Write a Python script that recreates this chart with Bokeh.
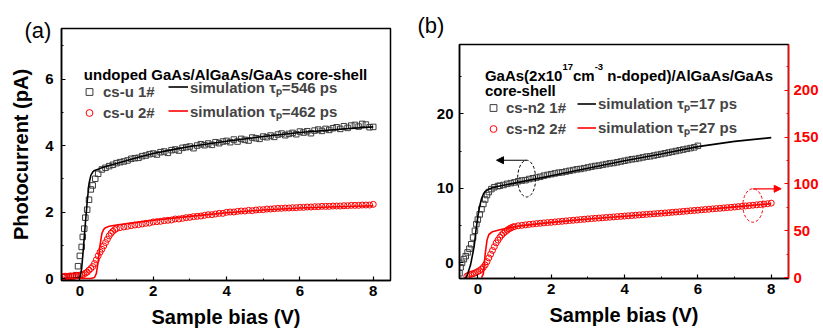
from bokeh.plotting import figure
from bokeh.layouts import row, column
from bokeh.models import (Range1d, LinearAxis, SingleIntervalTicker, Legend,
                          LegendItem, Label, Arrow, NormalHead, Spacer, Title)
from bokeh.embed import file_html
from bokeh.resources import INLINE

FONT = "Liberation Sans"

# ---------------- Panel (a): undoped core-shell ----------------
a1_x = [-0.4, -0.3, -0.2, -0.1, -0.05, 0.0, 0.05, 0.08, 0.12, 0.15, 0.2, 0.25, 0.3, 0.35, 0.42, 0.5,
        0.6, 0.7, 0.8, 0.9, 1.0, 1.1, 1.2, 1.3, 1.4, 1.5, 1.6, 1.7, 1.8, 1.9, 2.0,
        2.1, 2.2, 2.3, 2.4, 2.5, 2.6, 2.7, 2.8, 2.9, 3.0, 3.1, 3.2, 3.3, 3.4, 3.5,
        3.6, 3.7, 3.8, 3.9, 4.0, 4.1, 4.2, 4.3, 4.4, 4.5, 4.6, 4.7, 4.8, 4.9, 5.0,
        5.1, 5.2, 5.3, 5.4, 5.5, 5.6, 5.7, 5.8, 5.9, 6.0, 6.1, 6.2, 6.3, 6.4, 6.5,
        6.6, 6.7, 6.8, 6.9, 7.0, 7.1, 7.2, 7.3, 7.4, 7.5, 7.6, 7.7, 7.8, 7.9, 8.0]
a1_y = [0.04, 0.05, 0.06, 0.10, 0.37, 0.68, 0.95, 1.25, 1.50, 1.83, 2.07, 2.37, 2.68, 2.80, 3.00, 3.15,
        3.28, 3.33, 3.38, 3.42, 3.47, 3.50, 3.52, 3.55, 3.60, 3.62, 3.63, 3.68, 3.70, 3.74, 3.76,
        3.73, 3.80, 3.82, 3.78, 3.86, 3.88, 3.85, 3.93, 3.95, 3.97, 3.92, 4.00, 4.04, 4.01, 4.06,
        4.02, 4.10, 4.07, 4.12, 4.14, 4.10, 4.18, 4.12, 4.20, 4.17, 4.15, 4.24, 4.22, 4.20, 4.27,
        4.25, 4.30, 4.26, 4.33, 4.36, 4.31, 4.35, 4.38, 4.34, 4.42, 4.39, 4.43, 4.37, 4.45, 4.48,
        4.44, 4.50, 4.47, 4.52, 4.55, 4.50, 4.58, 4.53, 4.60, 4.62, 4.57, 4.65, 4.63, 4.55, 4.56]

a2_x = [-0.45, -0.4, -0.35, -0.3, -0.25, -0.2, -0.15, -0.1, -0.05, 0.0, 0.05, 0.1, 0.15, 0.2, 0.25,
        0.3, 0.35, 0.4, 0.45, 0.5, 0.55, 0.6, 0.65, 0.7, 0.75, 0.8, 0.85, 0.9, 0.95, 1.0,
        1.1, 1.2, 1.3, 1.4, 1.5, 1.6, 1.7, 1.8, 1.9, 2.0, 2.1, 2.2, 2.3, 2.4, 2.5,
        2.6, 2.7, 2.8, 2.9, 3.0, 3.1, 3.2, 3.3, 3.4, 3.5, 3.6, 3.7, 3.8, 3.9, 4.0,
        4.1, 4.2, 4.3, 4.4, 4.5, 4.6, 4.7, 4.8, 4.9, 5.0, 5.1, 5.2, 5.3, 5.4, 5.5,
        5.6, 5.7, 5.8, 5.9, 6.0, 6.1, 6.2, 6.3, 6.4, 6.5, 6.6, 6.7, 6.8, 6.9, 7.0,
        7.1, 7.2, 7.3, 7.4, 7.5, 7.6, 7.7, 7.8, 7.9, 8.0]
a2_y = [0.06, 0.07, 0.06, 0.07, 0.08, 0.07, 0.08, 0.09, 0.09, 0.10, 0.11, 0.12, 0.16, 0.19, 0.25,
        0.30, 0.36, 0.45, 0.56, 0.68, 0.79, 0.88, 0.98, 1.08, 1.18, 1.28, 1.36, 1.42, 1.47, 1.50,
        1.53, 1.55, 1.57, 1.59, 1.61, 1.62, 1.64, 1.66, 1.67, 1.70, 1.71, 1.72, 1.74, 1.75, 1.76,
        1.79, 1.79, 1.81, 1.83, 1.84, 1.86, 1.87, 1.88, 1.90, 1.92, 1.92, 1.94, 1.96, 1.96, 1.99,
        2.00, 2.00, 2.02, 2.03, 2.03, 2.05, 2.04, 2.06, 2.07, 2.07, 2.09, 2.09, 2.10, 2.11, 2.11,
        2.12, 2.12, 2.13, 2.13, 2.14, 2.14, 2.15, 2.15, 2.16, 2.16, 2.17, 2.17, 2.17, 2.18, 2.18,
        2.18, 2.19, 2.19, 2.20, 2.20, 2.20, 2.21, 2.21, 2.21, 2.23]

a1_sim_x = [-0.5, -0.2, 0.0, 0.05, 0.1, 0.15, 0.2, 0.25, 0.3, 0.35, 0.4, 0.5, 0.6, 0.8, 1.0,
            1.5, 2.0, 2.5, 3.0, 4.0, 5.0, 6.0, 7.0, 8.0]
a1_sim_y = [0.0, 0.0, 0.02, 0.30, 0.95, 1.65, 2.30, 2.85, 3.10, 3.20, 3.25, 3.29, 3.33, 3.40, 3.46,
            3.62, 3.76, 3.87, 3.97, 4.13, 4.27, 4.39, 4.48, 4.56]
a2_sim_x = [-0.5, 0.3, 0.4, 0.45, 0.5, 0.55, 0.6, 0.65, 0.7, 0.8, 1.0, 1.5, 2.0, 3.0, 4.0,
            5.0, 6.0, 7.0, 8.0]
a2_sim_y = [0.0, 0.0, 0.03, 0.15, 0.50, 1.00, 1.35, 1.48, 1.53, 1.57, 1.61, 1.68, 1.75, 1.87, 1.98,
            2.06, 2.12, 2.16, 2.19]

# ---------------- Panel (b): n-doped core-shell ----------------
b1_x = [-0.5, -0.47, -0.43, -0.38, -0.33, -0.28, -0.23, -0.18, -0.13, -0.08, -0.04, 0.0, 0.05, 0.1,
        0.15, 0.2, 0.25, 0.3, 0.37, 0.45, 0.55,
        0.6, 0.7, 0.8, 0.9, 1.0, 1.1, 1.2, 1.3, 1.4, 1.5, 1.6, 1.7, 1.8, 1.9, 2.0,
        2.1, 2.2, 2.3, 2.4, 2.5, 2.6, 2.7, 2.8, 2.9, 3.0, 3.1, 3.2, 3.3, 3.4, 3.5,
        3.6, 3.7, 3.8, 3.9, 4.0, 4.1, 4.2, 4.3, 4.4, 4.5, 4.6, 4.7, 4.8, 4.9, 5.0,
        5.1, 5.2, 5.3, 5.4, 5.5, 5.6, 5.7, 5.8, 5.9, 6.0]
b1_y = [-1.4, -0.6, 0.0, 0.5, 0.9, 1.4, 1.9, 2.5, 3.4, 4.3, 5.2, 5.8, 6.5, 7.2,
        7.9, 8.5, 9.1, 9.5, 9.9, 10.15, 10.3,
        10.35, 10.45, 10.6, 10.7, 10.8, 10.95, 11.05, 11.1, 11.25, 11.35, 11.45, 11.55, 11.7, 11.8, 11.9,
        12.0, 12.1, 12.15, 12.25, 12.35, 12.45, 12.55, 12.6, 12.7, 12.8, 12.9, 13.0, 13.05, 13.15, 13.25,
        13.35, 13.4, 13.5, 13.6, 13.7, 13.8, 13.9, 13.95, 14.05, 14.15, 14.25, 14.3, 14.4, 14.5, 14.6,
        14.7, 14.8, 14.9, 15.0, 15.1, 15.2, 15.3, 15.4, 15.5, 15.7]

b2_x = [-0.3, -0.25, -0.2, -0.15, -0.1, -0.05, 0.0, 0.05, 0.1, 0.15, 0.2, 0.25, 0.3, 0.35, 0.4,
        0.45, 0.5, 0.55, 0.6, 0.65, 0.7, 0.75, 0.8, 0.85, 0.9, 0.95, 1.0, 1.1,
        1.2, 1.3, 1.4, 1.5, 1.6, 1.7, 1.8, 1.9, 2.0, 2.1, 2.2, 2.3, 2.4, 2.5,
        2.6, 2.7, 2.8, 2.9, 3.0, 3.1, 3.2, 3.3, 3.4, 3.5, 3.6, 3.7, 3.8, 3.9, 4.0,
        4.1, 4.2, 4.3, 4.4, 4.5, 4.6, 4.7, 4.8, 4.9, 5.0, 5.1, 5.2, 5.3, 5.4, 5.5,
        5.6, 5.7, 5.8, 5.9, 6.0, 6.1, 6.2, 6.3, 6.4, 6.5, 6.6, 6.7, 6.8, 6.9, 7.0,
        7.1, 7.2, 7.3, 7.4, 7.5, 7.6, 7.7, 7.8, 7.9, 8.0]
b2_y = [1.5, 2.5, 3.5, 4.0, 4.5, 5.5, 6.5, 7.5, 9.0, 11.0, 13.5, 17.0, 21.0, 25.0, 29.0,
        33.0, 37.0, 40.0, 43.0, 45.5, 47.5, 49.0, 50.5, 52.0, 53.0, 54.0, 54.5, 55.3,
        55.8, 56.3, 56.8, 57.2, 57.6, 58.0, 58.4, 58.7, 59.0, 59.4, 59.8, 60.1, 60.5, 60.9,
        61.2, 61.6, 62.0, 62.3, 62.7, 63.0, 63.3, 63.6, 63.9, 64.2, 64.5, 64.8, 65.1, 65.4, 65.7,
        66.0, 66.3, 66.6, 66.9, 67.2, 67.5, 67.8, 68.1, 68.4, 68.7, 69.0, 69.3, 69.7, 70.0, 70.3,
        70.7, 71.0, 71.4, 71.7, 72.0, 72.4, 72.7, 73.0, 73.4, 73.7, 74.0, 74.4, 74.7, 75.0, 75.4,
        75.8, 76.1, 76.5, 76.9, 77.3, 77.7, 78.1, 78.5, 78.9, 79.5]

b1_sim_x = [-0.35, -0.3, -0.2, -0.1, -0.05, 0.0, 0.05, 0.1, 0.15, 0.2, 0.3, 0.5, 1.0,
            2.0, 3.0, 4.0, 5.0, 6.0, 7.0, 8.0]
b1_sim_y = [-2.1, -1.8, -0.3, 2.2, 4.4, 6.2, 7.6, 8.6, 9.2, 9.6, 9.9, 10.2, 10.7,
            11.7, 12.7, 13.7, 14.6, 15.6, 16.3, 16.8]
b2_sim_x = [0.1, 0.15, 0.2, 0.25, 0.3, 0.4, 0.6, 0.9, 1.2, 2.0, 3.0, 4.0, 5.0, 6.0, 7.0, 8.0]
b2_sim_y = [0.0, 4.0, 25.0, 40.0, 46.0, 49.0, 51.0, 53.5, 55.5, 59.0, 62.5, 65.5, 68.5, 72.0, 75.5, 79.0]

BLACK = "#000000"
GREY = "#3c3c3c"
RED = "#ff0000"
TXT = "15px"


def style_axis(ax, interval, color=BLACK, standoff=6):
    ax.ticker = SingleIntervalTicker(interval=interval, num_minor_ticks=2)
    ax.major_tick_in = 4
    ax.major_tick_out = 0
    ax.minor_tick_in = 2
    ax.minor_tick_out = 0
    ax.axis_line_color = color
    ax.major_tick_line_color = color
    ax.minor_tick_line_color = color
    ax.axis_line_width = 1.5
    ax.major_tick_line_width = 1.2
    ax.minor_tick_line_width = 1
    ax.major_label_text_font = FONT
    ax.major_label_text_font_size = "15px"
    ax.major_label_text_font_style = "bold"
    ax.major_label_text_color = color
    ax.major_label_standoff = standoff
    ax.axis_label_text_font = FONT
    ax.axis_label_text_font_size = "20px"
    ax.axis_label_text_font_style = "bold"
    ax.axis_label_text_color = color


def make_legend(items, loc, gw, standoff):
    lg = Legend(items=items, location=loc, orientation="vertical")
    lg.padding = 0
    lg.margin = 0
    lg.border_line_color = None
    lg.background_fill_alpha = 0
    lg.glyph_width = gw
    lg.glyph_height = 17
    lg.label_height = 17
    lg.spacing = 4
    lg.label_standoff = standoff
    lg.label_text_font = FONT
    lg.label_text_font_size = TXT
    lg.label_text_font_style = "bold"
    return lg


def txt(p, x, y, s, size=TXT, style="bold", xo=0, yo=0, color=BLACK):
    p.add_layout(Label(x=x, y=y, text=s, x_offset=xo, y_offset=yo, text_font=FONT,
                       text_font_size=size, text_font_style=style, text_color=color,
                       text_baseline="alphabetic"))


def panel_title(p, s, offset, standoff):
    p.add_layout(Title(text=s, align="left", offset=offset, standoff=standoff,
                       text_font=FONT, text_font_size="22px", text_font_style="normal",
                       text_color=BLACK), "above")


# ---------- figure (a) ----------
p1 = figure(frame_width=329, frame_height=252, min_border_left=61, min_border_right=23,
            min_border_top=22, min_border_bottom=52,
            x_range=Range1d(-0.5, 8.47), y_range=Range1d(-0.06, 7.52),
            output_backend="svg", toolbar_location=None)
p1.grid.visible = False
p1.outline_line_color = BLACK
p1.outline_line_width = 1.5
style_axis(p1.xaxis[0], 2, standoff=5)
style_axis(p1.yaxis[0], 2, standoff=8)
p1.xaxis.axis_label = "Sample bias (V)"
p1.yaxis.axis_label = "Photocurrent (pA)"
p1.xaxis.axis_label_standoff = 7
p1.yaxis.axis_label_standoff = 10
panel_title(p1, "(a)", -37, -28)

r_a1 = p1.scatter(a1_x, a1_y, marker="square", size=5.5, fill_color=None, line_color=GREY, line_width=1)
r_a2 = p1.scatter(a2_x, a2_y, marker="circle", size=6, fill_color=None, line_color=RED, line_width=1)
l_a1 = p1.line(a1_sim_x, a1_sim_y, line_color=BLACK, line_width=1.6)
l_a2 = p1.line(a2_sim_x, a2_sim_y, line_color=RED, line_width=1.6)

p1.add_layout(make_legend([LegendItem(label="cs-u 1#", renderers=[r_a1]),
                           LegendItem(label="cs-u 2#", renderers=[r_a2])], (18, 159.5), 20, 4))
p1.add_layout(make_legend([LegendItem(label="simulation \u03c4\u209a=546 ps", renderers=[l_a1]),
                           LegendItem(label="simulation \u03c4\u209a=462 ps", renderers=[l_a2])], (107, 159.5), 20, 2))
txt(p1, 0.109, 6.135, "undoped GaAs/AlGaAs/GaAs core-shell")

# ---------- figure (b) ----------
p2 = figure(frame_width=329, frame_height=234, min_border_left=46, min_border_right=35,
            min_border_top=42, min_border_bottom=54,
            x_range=Range1d(-0.5, 8.47), y_range=Range1d(-2.1, 29.3),
            output_backend="svg", toolbar_location=None)
p2.extra_y_ranges = {"red": Range1d(-1, 249)}
p2.grid.visible = False
p2.outline_line_color = BLACK
p2.outline_line_width = 1.5
style_axis(p2.xaxis[0], 2, standoff=5)
style_axis(p2.yaxis[0], 10, standoff=6)
p2.xaxis.axis_label = "Sample bias (V)"
p2.xaxis.axis_label_standoff = 7
red_axis = LinearAxis(y_range_name="red")
style_axis(red_axis, 50, color=RED, standoff=5)
p2.add_layout(red_axis, "right")
panel_title(p2, "(b)", -42, 14)

r_b1 = p2.scatter(b1_x, b1_y, marker="square", size=5.5, fill_color=None, line_color=GREY, line_width=1)
r_b2 = p2.scatter(b2_x, b2_y, marker="circle", size=6, fill_color=None, line_color=RED, line_width=1,
                  y_range_name="red")
l_b1 = p2.line(b1_sim_x, b1_sim_y, line_color=BLACK, line_width=1.6)
l_b2 = p2.line(b2_sim_x, b2_sim_y, line_color=RED, line_width=1.6, y_range_name="red")

# annotation ellipses and arrows
p2.ellipse(x=[1.33], y=[11.3], width=0.49, height=4.93, fill_color=None,
           line_color=BLACK, line_dash="3 2", line_width=1)
p2.ellipse(x=[7.5], y=[77.0], width=0.55, height=35.7, fill_color=None,
           line_color=RED, line_dash="3 2", line_width=1, y_range_name="red")
p2.add_layout(Arrow(x_start=1.33, y_start=13.77, x_end=0.51, y_end=13.77, line_color=BLACK,
                    line_width=1.2, end=NormalHead(size=7, fill_color=BLACK, line_color=BLACK)))
p2.add_layout(Arrow(x_start=7.5, y_start=94.85, x_end=8.27, y_end=94.85, line_color=RED,
                    line_width=1.2, y_range_name="red",
                    end=NormalHead(size=7, fill_color=RED, line_color=RED)))

p2.add_layout(make_legend([LegendItem(label="cs-n2 1#", renderers=[r_b1]),
                           LegendItem(label="cs-n2 2#", renderers=[r_b2])], (24, 140.8), 20, 3))
p2.add_layout(make_legend([LegendItem(label="simulation \u03c4\u209a=17 ps", renderers=[l_b1]),
                           LegendItem(label="simulation \u03c4\u209a=27 ps", renderers=[l_b2])], (118, 140.8), 19, 2))

txt(p2, 0.192, 25.1, "GaAs(2x10")
txt(p2, 0.192, 25.1, "17", size="9.5px", xo=77.5, yo=9)
txt(p2, 0.192, 25.1, "cm", xo=88.1)
txt(p2, 0.192, 25.1, "-3", size="9.5px", xo=109.8, yo=9)
txt(p2, 0.192, 25.1, "n-doped)/AlGaAs/GaAs", xo=122.4)
txt(p2, 0.192, 23.09, "core-shell")

layout = row(column(Spacer(height=6, width=10), p1), column(Spacer(height=2, width=10), p2))
open("out.html", "w").write(file_html(layout, INLINE))
